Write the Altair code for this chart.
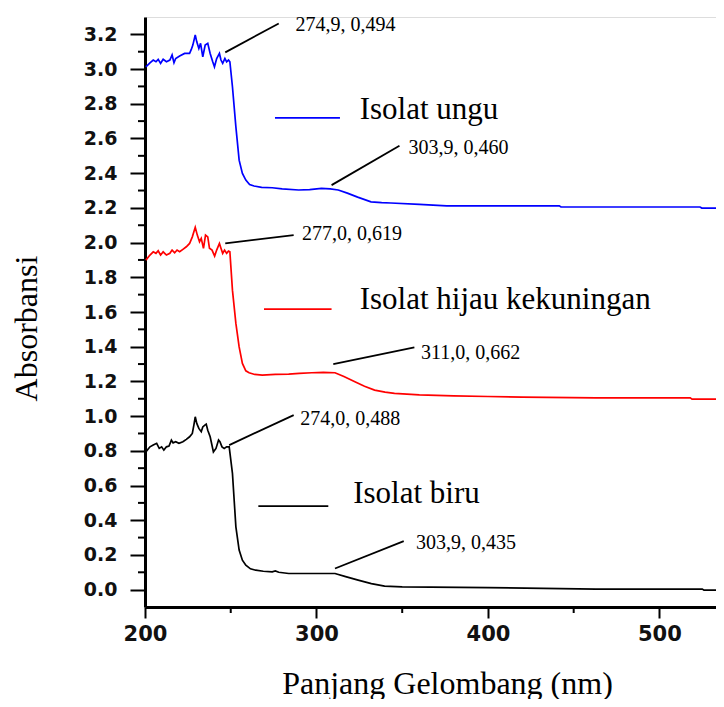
import altair as alt
import pandas as pd

# ---------------- data ----------------
series_names = ["Isolat ungu", "Isolat hijau kekuningan", "Isolat biru"]
series_colors = ["#0000ff", "#ff0000", "#000000"]

blue_wl = [200.5, 202.9, 204.8, 206.4, 207.7, 209.1, 210.6, 212.5, 214.5, 215.8,
           216.9, 217.9, 220.2, 223.1, 226.0, 227.0, 227.9, 229.3, 230.2, 231.4,
           232.4, 233.7, 235.1, 236.6, 238.0, 239.5, 240.5, 241.8, 243.4, 244.3,
           245.3, 246.6, 247.6, 248.7, 249.5, 251.0, 253.0, 254.9, 256.8, 258.8,
           261.0, 263.6, 268.0, 274.2, 280.0, 289.6, 296.0, 302.9, 308.0, 312.7,
           318.0, 324.0, 331.8, 338.0, 343.4, 360.0, 376.0, 441.6, 442.6, 523.7,
           524.7, 535.0]
blue_abs = [3.013, 3.036, 3.052, 3.042, 3.056, 3.033, 3.056, 3.042, 3.052, 3.081,
            3.036, 3.061, 3.075, 3.090, 3.090, 3.113, 3.138, 3.196, 3.157, 3.119,
            3.148, 3.071, 3.138, 3.148, 3.090, 3.042, 3.013, 3.061, 3.090, 3.052,
            3.033, 3.061, 3.042, 3.052, 3.042, 2.898, 2.667, 2.475, 2.399, 2.360,
            2.335, 2.326, 2.318, 2.316, 2.310, 2.303, 2.305, 2.312, 2.310, 2.303,
            2.285, 2.262, 2.235, 2.230, 2.228, 2.220, 2.212, 2.212, 2.205, 2.205,
            2.199, 2.199]

red_wl = [200.5, 202.9, 204.8, 206.4, 207.7, 209.1, 210.6, 212.5, 214.5, 215.8,
          217.3, 218.7, 220.2, 222.1, 224.1, 226.0, 227.6, 229.3, 230.5, 231.8,
          232.8, 234.1, 235.3, 236.6, 237.6, 239.1, 240.6, 241.8, 243.4, 244.3,
          245.3, 246.4, 247.6, 248.7, 249.5, 251.0, 253.0, 254.9, 256.8, 258.8,
          260.7, 264.0, 268.4, 276.0, 283.8, 290.0, 297.3, 304.0, 310.8, 316.0,
          322.4, 328.0, 333.9, 340.0, 345.5, 360.0, 380.0, 400.0, 420.0, 463.0,
          518.0, 519.0, 535.0]
red_abs = [1.899, 1.928, 1.947, 1.938, 1.953, 1.928, 1.947, 1.928, 1.938, 1.957,
           1.941, 1.957, 1.947, 1.961, 1.976, 1.995, 2.033, 2.088, 2.043, 2.005,
           2.024, 1.967, 2.043, 2.033, 1.967, 1.957, 1.922, 1.957, 1.995, 1.967,
           1.938, 1.957, 1.938, 1.951, 1.947, 1.726, 1.534, 1.399, 1.304, 1.261,
           1.250, 1.240, 1.236, 1.240, 1.242, 1.246, 1.250, 1.252, 1.250, 1.228,
           1.198, 1.172, 1.150, 1.138, 1.131, 1.122, 1.117, 1.113, 1.110, 1.105,
           1.105, 1.098, 1.098]

black_wl = [200.5, 202.9, 204.8, 206.8, 208.3, 209.7, 211.0, 212.5, 214.0, 215.4,
            216.4, 217.9, 219.8, 222.1, 224.1, 226.0, 227.6, 228.5, 229.3, 230.2,
            231.4, 232.8, 233.7, 234.9, 235.7, 236.6, 238.0, 239.9, 241.4, 242.9,
            243.7, 244.9, 246.2, 247.6, 249.1, 251.0, 253.0, 254.9, 256.8, 258.8,
            261.5, 264.6, 269.0, 274.2, 276.0, 278.0, 283.8, 297.0, 310.8, 317.0,
            324.3, 332.0, 339.7, 350.0, 400.0, 463.0, 525.0, 526.0, 535.0]
black_abs = [0.794, 0.823, 0.833, 0.843, 0.814, 0.823, 0.804, 0.823, 0.827, 0.862,
             0.846, 0.852, 0.843, 0.852, 0.866, 0.881, 0.900, 0.948, 0.996, 0.958,
             0.929, 0.910, 0.938, 0.948, 0.954, 0.919, 0.881, 0.794, 0.814, 0.862,
             0.852, 0.823, 0.814, 0.823, 0.823, 0.670, 0.362, 0.228, 0.170, 0.141,
             0.120, 0.112, 0.106, 0.103, 0.108, 0.100, 0.093, 0.093, 0.093, 0.075,
             0.055, 0.035, 0.020, 0.016, 0.012, 0.003, 0.003, -0.003, -0.003]

# peak annotations: label, leader start (x, y), leader end (x2, y2), text anchor
ann_labels = ["274,9, 0,494", "303,9, 0,460", "277,0, 0,619",
              "311,0, 0,662", "274,0, 0,488", "303,9, 0,435"]
ann_x1 = [246.8, 308.8, 246.8, 309.8, 249.1, 310.8]
ann_y1 = [3.096, 2.331, 1.995, 1.300, 0.833, 0.122]
ann_x2 = [278.0, 348.4, 286.7, 357.1, 286.7, 350.9]
ann_y2 = [3.263, 2.558, 2.043, 1.396, 1.006, 0.280]
ann_tx = [287.7, 353.6, 291.5, 360.9, 290.6, 358.0]
ann_ty = [3.254, 2.546, 2.049, 1.365, 0.981, 0.270]

# in-plot legend entries
leg_x1 = [275.8, 269.4, 266.1]
leg_x2 = [313.7, 308.8, 306.9]
leg_y = [2.719, 1.617, 0.481]
leg_tx = [325.2, 325.2, 321.4]
leg_ty = [2.710, 1.615, 0.497]

x_major_ticks = [200, 300, 400, 500]
x_minor_ticks = [250, 350, 450]
y_major_ticks = [0.0, 0.2, 0.4, 0.6, 0.8, 1.0, 1.2, 1.4, 1.6, 1.8, 2.0, 2.2,
                 2.4, 2.6, 2.8, 3.0, 3.2]
y_minor_ticks = [0.1, 0.3, 0.5, 0.7, 0.9, 1.1, 1.3, 1.5, 1.7, 1.9, 2.1, 2.3,
                 2.5, 2.7, 2.9, 3.1]
x_domain = [200, 533.0]
y_domain = [-0.1, 3.3]

# ---------------- tables ----------------
rows = []
for name, wl, ab in zip(series_names, [blue_wl, red_wl, black_wl],
                        [blue_abs, red_abs, black_abs]):
    for w, a in zip(wl, ab):
        rows.append({"series": name, "wl": w, "abs": a})
df = pd.DataFrame(rows)

ann_df = pd.DataFrame({"label": ann_labels, "x": ann_x1, "y": ann_y1,
                       "x2": ann_x2, "y2": ann_y2, "tx": ann_tx, "ty": ann_ty})
leg_df = pd.DataFrame({"series": series_names, "x": leg_x1, "x2": leg_x2,
                       "y": leg_y, "tx": leg_tx, "ty": leg_ty})
xmin_df = pd.DataFrame({"xm": x_minor_ticks})
ymin_df = pd.DataFrame({"ym": y_minor_ticks})

PLOT_W, PLOT_H = 571, 590

xs = alt.Scale(domain=x_domain, nice=False, zero=False)
ys = alt.Scale(domain=y_domain, nice=False, zero=False)
cs = alt.Scale(domain=series_names, range=series_colors)

x_axis = alt.Axis(
    values=x_major_ticks, format="d", grid=False, orient="bottom",
    tickSize=11, tickWidth=2, tickColor="black", domainWidth=3, domainColor="black",
    labelFont="DejaVu Sans", labelFontSize=21, labelFontWeight="bold",
    labelColor="#111111", labelPadding=5, labelFlush=False, labelOverlap=False,
    title="Panjang Gelombang (nm)", titleFont="Liberation Serif", titleFontSize=32,
    titleFontWeight="normal", titleColor="black", titleX=302, titleY=86,
    titleAlign="center", titleBaseline="alphabetic",
)
y_axis = alt.Axis(
    values=y_major_ticks, format=".1f", grid=False, orient="left",
    tickSize=15, tickWidth=2, tickColor="black", domainWidth=3, domainColor="black",
    labelFont="DejaVu Sans", labelFontSize=19, labelFontWeight="bold",
    labelColor="#111111", labelPadding=13, labelFlush=False, labelOverlap=False,
    title="Absorbansi", titleFont="Liberation Serif", titleFontSize=32,
    titleFontWeight="normal", titleColor="black", titleAngle=270,
    titleX=-109, titleY=311, titleAlign="center", titleBaseline="alphabetic",
)

lines = alt.Chart(df).mark_line(strokeWidth=1.7, clip=True).encode(
    x=alt.X("wl:Q", scale=xs, axis=x_axis),
    y=alt.Y("abs:Q", scale=ys, axis=y_axis),
    color=alt.Color("series:N", scale=cs, legend=None),
)

# minor ticks (outside the plot, on the axis lines)
x_minor = alt.Chart(xmin_df).mark_rule(color="black", strokeWidth=2).encode(
    x=alt.X("xm:Q", scale=xs, axis=x_axis), y=alt.value(PLOT_H), y2=alt.value(PLOT_H + 6),
)
y_minor = alt.Chart(ymin_df).mark_rule(color="black", strokeWidth=2).encode(
    y=alt.Y("ym:Q", scale=ys, axis=y_axis), x=alt.value(-7), x2=alt.value(0),
)

leaders = alt.Chart(ann_df).mark_rule(color="black", strokeWidth=1.8).encode(
    x=alt.X("x:Q", scale=xs, axis=x_axis), y=alt.Y("y:Q", scale=ys, axis=y_axis),
    x2="x2:Q", y2="y2:Q",
)
ann_text = alt.Chart(ann_df).mark_text(
    align="left", baseline="middle", font="Liberation Serif", fontSize=20,
    color="black",
).encode(x=alt.X("tx:Q", scale=xs, axis=x_axis), y=alt.Y("ty:Q", scale=ys, axis=y_axis),
         text="label:N")

leg_lines = alt.Chart(leg_df).mark_rule(strokeWidth=1.7).encode(
    x=alt.X("x:Q", scale=xs, axis=x_axis), x2="x2:Q",
    y=alt.Y("y:Q", scale=ys, axis=y_axis),
    color=alt.Color("series:N", scale=cs, legend=None),
)
leg_text = alt.Chart(leg_df).mark_text(
    align="left", baseline="alphabetic", font="Liberation Serif", fontSize=31,
    color="black",
).encode(x=alt.X("tx:Q", scale=xs, axis=x_axis), y=alt.Y("ty:Q", scale=ys, axis=y_axis),
         text="series:N")

chart = alt.layer(lines, x_minor, y_minor, leaders, ann_text, leg_lines, leg_text).properties(
    width=PLOT_W, height=PLOT_H,
    autosize=alt.AutoSizeParams(type="none"),
    padding={"left": 137, "top": 9, "right": 0, "bottom": 92},
).configure_view(strokeWidth=0).configure_axis(labelOverlap=False).configure(
    background="white")

chart.save("out.html", embed_options={"renderer": "svg", "actions": False})
